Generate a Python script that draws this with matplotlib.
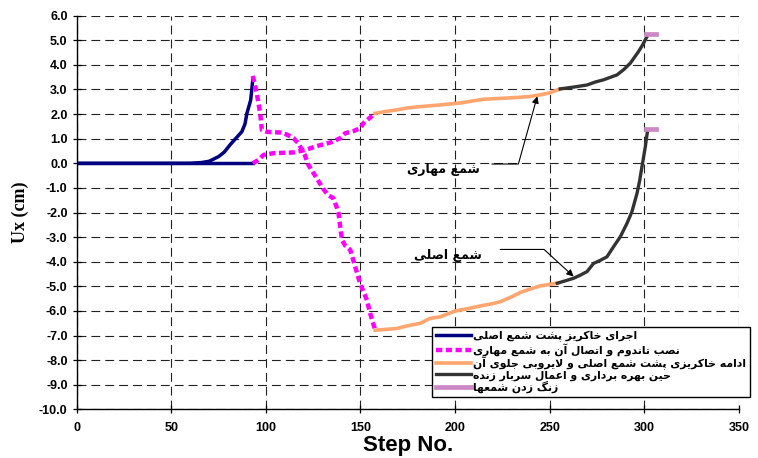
import matplotlib
matplotlib.use('Agg')
import matplotlib.pyplot as plt
from matplotlib.ticker import MultipleLocator, FormatStrFormatter

# ---- data ----
# main pile (شمع اصلی)
main_blue_x = [0, 60, 66, 70, 75, 78, 81, 84, 87.3, 89, 90, 92, 93.1]
main_blue_y = [0, 0, 0.03, 0.08, 0.27, 0.45, 0.74, 1.0, 1.28, 1.6, 2.03, 2.57, 3.39]
main_mag_x = [93.1, 95.2, 97, 97.9, 100.5, 104, 107.6, 111, 114.6, 117.2, 120.5, 122.5,
              125.2, 128, 130.4, 133, 135.7, 137.5, 138.4, 139.3, 140.2, 142, 144.6,
              147.2, 149.8, 151.5, 153.4, 155.1, 157.8]
main_mag_y = [3.55, 2.85, 2.03, 1.35, 1.28, 1.26, 1.25, 1.17, 1.02, 0.81, 0.35, -0.07,
              -0.4, -0.75, -1.05, -1.3, -1.42, -1.8, -2.03, -2.58, -3.12, -3.35, -3.52,
              -4.2, -4.88, -5.2, -5.56, -6.1, -6.78]
main_org_x = [157.8, 163, 169.2, 175, 181.6, 186.8, 192, 200, 207, 213, 220, 224,
              230, 234.4, 240, 245, 250, 254]
main_org_y = [-6.78, -6.75, -6.71, -6.6, -6.5, -6.3, -6.24, -6.0, -5.9, -5.8, -5.7,
              -5.62, -5.42, -5.25, -5.1, -4.98, -4.92, -4.87]
main_blk_x = [254, 258, 262.6, 266, 269.7, 273.1, 276.5, 280.2, 283.7, 287.3, 290.8,
              293.4, 296.1, 297.5, 298.7, 300.5, 301.7]
main_blk_y = [-4.87, -4.78, -4.67, -4.55, -4.4, -4.07, -3.95, -3.8, -3.39, -2.98,
              -2.44, -1.97, -1.22, -0.7, -0.14, 0.68, 1.35]
main_pink_x = [301, 306]
main_pink_y = [1.41, 1.41]

# anchor pile (شمع مهاری)
anch_blue_x = [0, 93.1]
anch_blue_y = [0, 0]
anch_mag_x = [93.1, 96, 98.8, 104, 107.6, 114.6, 120.8, 127, 134, 139.3, 141.9, 146,
              149.8, 151.6, 154.5, 157.8]
anch_mag_y = [0, 0.13, 0.34, 0.41, 0.42, 0.44, 0.54, 0.7, 0.84, 1.02, 1.22, 1.3,
              1.42, 1.63, 1.82, 2.03]
anch_org_x = [157.8, 163, 169.2, 175, 181.6, 192, 202.7, 215, 225, 234.4, 240, 245,
              250, 255.5]
anch_org_y = [2.03, 2.1, 2.17, 2.25, 2.3, 2.37, 2.45, 2.6, 2.64, 2.68, 2.72, 2.78,
              2.86, 3.02]
anch_blk_x = [255.5, 263, 269.7, 274, 278.4, 285.5, 289, 292.6, 296.9, 299, 301.4]
anch_blk_y = [3.02, 3.1, 3.18, 3.3, 3.39, 3.59, 3.8, 4.07, 4.54, 4.8, 5.15]
anch_pink_x = [301, 306]
anch_pink_y = [5.26, 5.26]

labels = [
    'اجرای خاکریز پشت شمع اصلی',
    'نصب تاندوم و اتصال آن به شمع مهاری',
    'ادامه خاکریزی پشت شمع اصلی و لایروبی جلوی آن',
    'حین بهره برداری و اعمال سربار زنده',
    'زنگ زدن شمعها',
]
note_anchor = 'شمع مهاری'
note_main = 'شمع اصلی'

# ---- tiny persian shaper (matplotlib does no arabic shaping / bidi) ----
# isolated, final, initial, medial
FORMS = {
    'ا': ('\uFE8D', '\uFE8E', None, None),
    'آ': ('\uFE81', '\uFE82', None, None),
    'ب': ('\uFE8F', '\uFE90', '\uFE91', '\uFE92'),
    'پ': ('\uFB56', '\uFB57', '\uFB58', '\uFB59'),
    'ت': ('\uFE95', '\uFE96', '\uFE97', '\uFE98'),
    'ج': ('\uFE9D', '\uFE9E', '\uFE9F', '\uFEA0'),
    'ح': ('\uFEA1', '\uFEA2', '\uFEA3', '\uFEA4'),
    'خ': ('\uFEA5', '\uFEA6', '\uFEA7', '\uFEA8'),
    'د': ('\uFEA9', '\uFEAA', None, None),
    'ر': ('\uFEAD', '\uFEAE', None, None),
    'ز': ('\uFEAF', '\uFEB0', None, None),
    'س': ('\uFEB1', '\uFEB2', '\uFEB3', '\uFEB4'),
    'ش': ('\uFEB5', '\uFEB6', '\uFEB7', '\uFEB8'),
    'ص': ('\uFEB9', '\uFEBA', '\uFEBB', '\uFEBC'),
    'ع': ('\uFEC9', '\uFECA', '\uFECB', '\uFECC'),
    'ک': ('\uFB8E', '\uFB8F', '\uFB90', '\uFB91'),
    'گ': ('\uFB92', '\uFB93', '\uFB94', '\uFB95'),
    'ل': ('\uFEDD', '\uFEDE', '\uFEDF', '\uFEE0'),
    'م': ('\uFEE1', '\uFEE2', '\uFEE3', '\uFEE4'),
    'ن': ('\uFEE5', '\uFEE6', '\uFEE7', '\uFEE8'),
    'ه': ('\uFEE9', '\uFEEA', '\uFEEB', '\uFEEC'),
    'و': ('\uFEED', '\uFEEE', None, None),
    'ی': ('\uFBFC', '\uFBFD', '\uFBFE', '\uFBFF'),
}
LAM_ALEF = {'ا': ('\uFEFB', '\uFEFC'), 'آ': ('\uFEF5', '\uFEF6')}


def fa(text):
    out = []
    i, n = 0, len(text)
    while i < n:
        ch = text[i]
        if ch not in FORMS:
            out.append(ch)
            i += 1
            continue
        prev = text[i - 1] if i > 0 else ''
        joins_prev = prev in FORMS and FORMS[prev][2] is not None
        if ch == 'ل' and i + 1 < n and text[i + 1] in LAM_ALEF:
            out.append(LAM_ALEF[text[i + 1]][1 if joins_prev else 0])
            i += 2
            continue
        nxt = text[i + 1] if i + 1 < n else ''
        iso, fin, ini, med = FORMS[ch]
        joins_next = ini is not None and nxt in FORMS
        if joins_prev and joins_next:
            out.append(med)
        elif joins_prev:
            out.append(fin)
        elif joins_next:
            out.append(ini)
        else:
            out.append(iso)
        i += 1
    return ''.join(reversed(out))


# ---- plot ----
plt.rcParams['axes.unicode_minus'] = False
fig = plt.figure(figsize=(7.58, 4.58), dpi=100)
ax = fig.add_axes([0.101, 0.106, 0.874, 0.860])

blue = '#000080'
mag = '#FF00FF'
org = '#FFA570'
blk = '#333333'
pink = '#CC88C4'

ax.plot(main_blue_x, main_blue_y, color=blue, lw=2.5, label=fa(labels[0]))
ax.plot(main_mag_x, main_mag_y, color=mag, lw=3.2, ls=(0, (1.4, 0.8)), label=fa(labels[1]))
ax.plot(main_org_x, main_org_y, color=org, lw=2.6, label=fa(labels[2]))
ax.plot(main_blk_x, main_blk_y, color=blk, lw=2.4, label=fa(labels[3]))
ax.plot(main_pink_x, main_pink_y, color=pink, lw=3.4, label=fa(labels[4]))

ax.plot(anch_blue_x, anch_blue_y, color=blue, lw=2.5)
ax.plot(anch_mag_x, anch_mag_y, color=mag, lw=3.2, ls=(0, (1.4, 0.8)))
ax.plot(anch_org_x, anch_org_y, color=org, lw=2.6)
ax.plot(anch_blk_x, anch_blk_y, color=blk, lw=2.4)
ax.plot(anch_pink_x, anch_pink_y, color=pink, lw=3.4)

ax.set_xlim(0, 350)
ax.set_ylim(-10, 6)
ax.xaxis.set_major_locator(MultipleLocator(50))
ax.yaxis.set_major_locator(MultipleLocator(1))
ax.yaxis.set_major_formatter(FormatStrFormatter('%.1f'))
ax.grid(True, color='#222222', lw=0.8, ls=(0, (8, 4.5)))
ax.set_axisbelow(True)
for s in ['top', 'right']:
    ax.spines[s].set_visible(False)
ax.spines['left'].set_linewidth(1.0)
ax.spines['bottom'].set_linewidth(1.0)
ax.tick_params(direction='inout', length=6, width=0.9)
for lab in ax.get_xticklabels() + ax.get_yticklabels():
    lab.set_fontfamily('Liberation Sans')
    lab.set_fontweight('bold')
    lab.set_fontsize(9)
ax.tick_params(axis='x', pad=6)

ax.set_xlabel('Step No.', family='Liberation Sans', weight='bold', fontsize=16, labelpad=1)
ax.set_ylabel('Ux (cm)', family='Liberation Serif', weight='bold', fontsize=13, labelpad=7)

# annotations
ax.text(213.3, -0.27, fa(note_anchor), ha='right', va='center',
        family=['DejaVu Sans'], weight='bold', fontsize=9)
ax.annotate('', xy=(243.4, 2.72), xytext=(219.4, -0.03),
            arrowprops=dict(arrowstyle='-|>', color='k', lw=0.8, shrinkA=0, shrinkB=0,
                            mutation_scale=10,
                            connectionstyle='angle,angleA=0,angleB=74.4,rad=0'))
ax.text(214.3, -3.73, fa(note_main), ha='right', va='center',
        family=['DejaVu Sans'], weight='bold', fontsize=9)
ax.annotate('', xy=(262.6, -4.6), xytext=(223.8, -3.5),
            arrowprops=dict(arrowstyle='-|>', color='k', lw=0.8, shrinkA=0, shrinkB=0,
                            mutation_scale=10,
                            connectionstyle='angle,angleA=0,angleB=-42.5,rad=0'))

leg = ax.legend(loc='upper left', bbox_to_anchor=(0.537, 0.209),
                prop=dict(family='DejaVu Sans', weight='bold', size=7.8),
                handlelength=3.2, handletextpad=0.25, labelspacing=0.05,
                borderpad=0.35, borderaxespad=0, fancybox=False, framealpha=1)
leg.get_frame().set_edgecolor('black')
leg.get_frame().set_linewidth(1.0)
leg.set_clip_on(False)

plt.savefig('out.png', dpi=100)
plt.close()
